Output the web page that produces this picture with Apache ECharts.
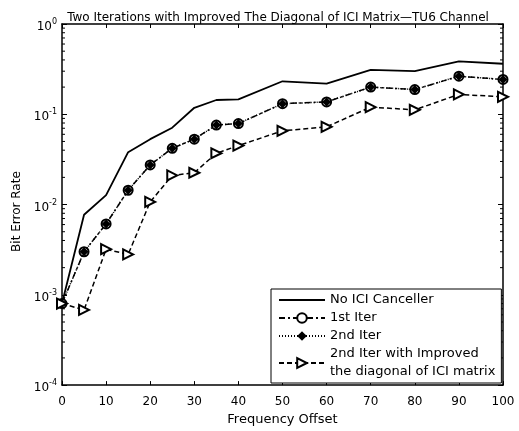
<!DOCTYPE html>
<html><head><meta charset="utf-8">
<script src="https://cdn.jsdelivr.net/npm/echarts@6/dist/echarts.min.js"></script>
<style>html,body{margin:0;padding:0;background:#fff}#c{width:519px;height:431px}</style>
</head><body><div id="c"></div>
<script>
var freqOffset = [0, 5, 10, 15, 20, 25, 30, 35, 40, 50, 60, 70, 80, 90, 100];
var noICI   = [8e-4, 0.0077, 0.0127, 0.038, 0.053, 0.071, 0.118, 0.144, 0.146, 0.232, 0.219, 0.31, 0.30, 0.385, 0.363];
var iter1   = [8e-4, 0.0030, 0.0061, 0.0144, 0.0275, 0.042, 0.053, 0.076, 0.079, 0.131, 0.137, 0.20, 0.188, 0.264, 0.243];
var iter2   = [8e-4, 0.0030, 0.0061, 0.0144, 0.0275, 0.042, 0.053, 0.076, 0.079, 0.131, 0.137, 0.20, 0.188, 0.264, 0.243];
var iter2Imp= [8e-4, 6.8e-4, 0.0032, 0.0028, 0.0107, 0.021, 0.0225, 0.037, 0.045, 0.0656, 0.0726, 0.12, 0.112, 0.166, 0.156];
var xTicks = [0, 10, 20, 30, 40, 50, 60, 70, 80, 90, 100];
var yDecades = [1e-4, 1e-3, 1e-2, 1e-1, 1];
var seriesNames = ['No ICI Canceller', '1st Iter', '2nd Iter', '2nd Iter with Improved\nthe diagonal of ICI matrix'];

var minorTicks = [];
for (var d = 0; d < yDecades.length - 1; d++) for (var m = 2; m <= 9; m++) minorTicks.push(yDecades[d] * m);

function pairs(ys) { return freqOffset.map(function (x, i) { return [x, ys[i]]; }); }
var FONT = 'DejaVu Sans, sans-serif';
var chart = echarts.init(document.getElementById('c'), null, {renderer: 'canvas'});
var yLabel = {
  fontFamily: FONT, color: '#000', margin: 5,
  formatter: function (v) { var e = Math.round(Math.log10(v)); return '{b|10}{s|' + e + '}'; },
  rich: { b: {fontSize: 12, fontFamily: FONT, color: '#000', padding: [6, 0, 0, 0]}, s: {fontSize: 8, fontFamily: FONT, color: '#000', padding: [0, 0, 4, 0]} }
};
chart.setOption({
  animation: false,
  backgroundColor: '#fff',
  title: { text: 'Two Iterations with Improved The Diagonal of ICI Matrix\u2014TU6 Channel', left: 273, top: 7, textAlign: 'center',
    textStyle: {fontSize: 12, fontWeight: 'normal', fontFamily: FONT, color: '#000'} },
  grid: { left: 62, right: 16, top: 24, bottom: 43 },
  legend: {
    orient: 'vertical', left: 271, top: 289,
    data: [{name: seriesNames[0], itemStyle: {opacity: 0}}, seriesNames[1], seriesNames[2], seriesNames[3]],
    itemWidth: 46, itemHeight: 12, itemGap: 0, padding: [2, 6, 2, 7],
    backgroundColor: '#fff', borderColor: '#000', borderWidth: 1, borderRadius: 0,
    textStyle: {fontSize: 13, fontFamily: FONT, color: '#000', lineHeight: 18}
  },
  xAxis: [
    { type: 'value', min: 0, max: 100, interval: 10, position: 'bottom',
      name: 'Frequency Offset', nameLocation: 'middle', nameGap: 23,
      nameTextStyle: {fontSize: 13, fontFamily: FONT, color: '#000'},
      axisLine: {onZero: false, lineStyle: {color: '#000', width: 1.5}},
      axisTick: {inside: true, length: 4, lineStyle: {color: '#000'}},
      axisLabel: {fontSize: 12, fontFamily: FONT, color: '#000', margin: 11},
      splitLine: {show: false} },
    { type: 'value', min: 0, max: 100, interval: 10, position: 'top',
      axisLine: {onZero: false, lineStyle: {color: '#000', width: 1.5}},
      axisTick: {inside: true, length: 4, lineStyle: {color: '#000'}},
      axisLabel: {show: false}, splitLine: {show: false} }
  ],
  yAxis: [
    { type: 'log', logBase: 10, min: 1e-4, max: 1, position: 'left',
      name: 'Bit Error Rate', nameLocation: 'middle', nameGap: 32,
      nameTextStyle: {fontSize: 12, fontFamily: FONT, color: '#000', padding: [0, 14, 0, 0]},
      axisLine: {onZero: false, lineStyle: {color: '#000', width: 1.5}},
      axisTick: {inside: true, length: 5, lineStyle: {color: '#000'}},
      axisLabel: yLabel, splitLine: {show: false} },
    { type: 'log', logBase: 10, min: 1e-4, max: 1, position: 'right',
      axisLine: {onZero: false, lineStyle: {color: '#000', width: 1.5}},
      axisTick: {inside: true, length: 5, lineStyle: {color: '#000'}},
      axisLabel: {show: false}, splitLine: {show: false} }
  ],
  series: [
    { name: seriesNames[0], type: 'line', data: pairs(noICI), symbol: 'none', showSymbol: false,
      lineStyle: {color: '#000', width: 1.8, type: 'solid'}, itemStyle: {color: '#000'} },
    { name: seriesNames[1], type: 'line', data: pairs(iter1), symbol: 'emptyCircle', symbolSize: 9,
      lineStyle: {color: '#000', width: 1.5, type: [6, 3, 2, 3]}, itemStyle: {color: '#000', borderWidth: 1.5} },
    { name: seriesNames[2], type: 'line', data: pairs(iter2), symbol: 'diamond', symbolSize: 9,
      lineStyle: {color: '#000', width: 1.5, type: [1, 2]}, itemStyle: {color: '#000'} },
    { name: seriesNames[3], type: 'line', data: pairs(iter2Imp), symbol: 'emptyTriangle', symbolRotate: -90, symbolSize: 10,
      lineStyle: {color: '#000', width: 1.5, type: [5, 3]}, itemStyle: {color: '#000', borderWidth: 1.3} },
    { type: 'custom', silent: true, clip: false, legendHoverLink: false,
      data: minorTicks.map(function (v) { return [0, v]; }),
      renderItem: function (params, api) {
        var v = api.value(1);
        var l = api.coord([0, v]), r = api.coord([100, v]);
        return { type: 'group', children: [
          {type: 'line', shape: {x1: l[0], y1: l[1], x2: l[0] + 3, y2: l[1]}, style: {stroke: '#000', lineWidth: 1}},
          {type: 'line', shape: {x1: r[0], y1: r[1], x2: r[0] - 3, y2: r[1]}, style: {stroke: '#000', lineWidth: 1}}
        ]};
      } }
  ]
});
</script></body></html>
